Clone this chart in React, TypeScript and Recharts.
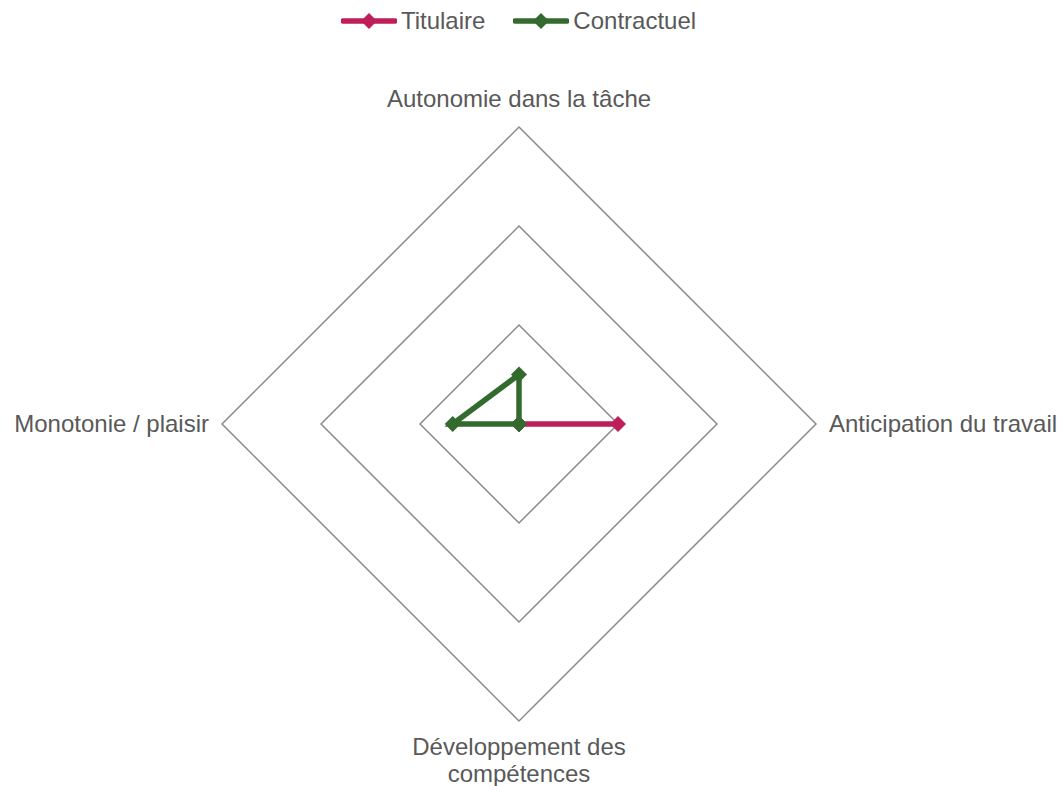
import React from 'react';
import { RadarChart, Radar, PolarGrid, PolarAngleAxis, PolarRadiusAxis, Legend } from 'recharts';

// axis categories (clockwise from top)
const categories = [
  'Autonomie dans la tâche',
  'Anticipation du travail',
  'Développement des\ncompétences',
  'Monotonie / plaisir',
];

const titulaire = [0, 1, 0, 0];
const contractuel = [0.5, 0, 0, 0.67];

const seriesNames = ['Titulaire', 'Contractuel'];
const seriesColors = ['#BE1F5B', '#336B2E'];

const chartData = categories.map((cat, i) => ({
  cat,
  Titulaire: titulaire[i],
  Contractuel: contractuel[i],
}));

const FONT = '"Liberation Sans", Arial, sans-serif';
const TEXT = '#595959';

const Diamond = (color: string) => (props: any) => {
  const { cx, cy } = props;
  if (cx == null || cy == null) return <g />;
  const r = 8;
  return (
    <polygon
      key={props.key ?? `${cx}-${cy}`}
      points={`${cx},${cy - r} ${cx + r},${cy} ${cx},${cy + r} ${cx - r},${cy}`}
      fill={color}
    />
  );
};

const AngleTick = (props: any) => {
  const { x, y, payload, textAnchor } = props;
  const lines = String(payload.value).split('\n');
  let tx = x;
  let ty = y;
  if (textAnchor === 'start') {
    tx = x + 5;
    ty = y + 8;
  } else if (textAnchor === 'end') {
    tx = x - 5;
    ty = y + 8;
  } else if (y < 424) {
    ty = y - 12;
  } else {
    ty = y + 26;
  }
  return (
    <text x={tx} y={ty} textAnchor={textAnchor} fill={TEXT} fontSize={24} fontFamily={FONT}>
      {lines.map((l, i) => (
        <tspan key={i} x={tx} dy={i === 0 ? 0 : 27}>
          {l}
        </tspan>
      ))}
    </text>
  );
};

const CustomLegend = () => (
  <div style={{ display: 'flex', justifyContent: 'center', alignItems: 'center', gap: 28, fontFamily: FONT, fontSize: 24, color: TEXT, lineHeight: '28px' }}>
    {seriesNames.map((name, i) => (
      <div key={name} style={{ display: 'flex', alignItems: 'center' }}>
        <svg width={56} height={18} style={{ marginRight: 4 }}>
          <line x1={2} y1={9} x2={54} y2={9} stroke={seriesColors[i]} strokeWidth={5.5} strokeLinecap="round" />
          <polygon points="28,1 36,9 28,17 20,9" fill={seriesColors[i]} />
        </svg>
        <span>{name}</span>
      </div>
    ))}
  </div>
);

export default function App() {
  return (
    <div style={{ position: 'absolute', left: 0, top: 0, width: 1060, height: 786, background: '#fff' }}>
      <RadarChart width={1060} height={786} data={chartData} cx={519} cy={424} outerRadius={297} innerRadius={0}>
        <PolarGrid gridType="polygon" radialLines={false} stroke="#8a8a8a" strokeWidth={1.5} />
        <PolarAngleAxis dataKey="cat" tick={AngleTick} axisLine={false} tickLine={false} />
        <PolarRadiusAxis domain={[0, 3]} tickCount={4} tick={false} axisLine={false} />
        <Legend
          verticalAlign="top"
          content={() => <CustomLegend />}
          wrapperStyle={{ top: 7, left: 0, width: 1037 }}
        />
        {seriesNames.map((name, i) => (
          <Radar
            key={name}
            name={name}
            dataKey={name}
            stroke={seriesColors[i]}
            strokeWidth={5.5}
            fill="none"
            fillOpacity={0}
            dot={Diamond(seriesColors[i])}
            isAnimationActive={false}
          />
        ))}
      </RadarChart>
    </div>
  );
}
